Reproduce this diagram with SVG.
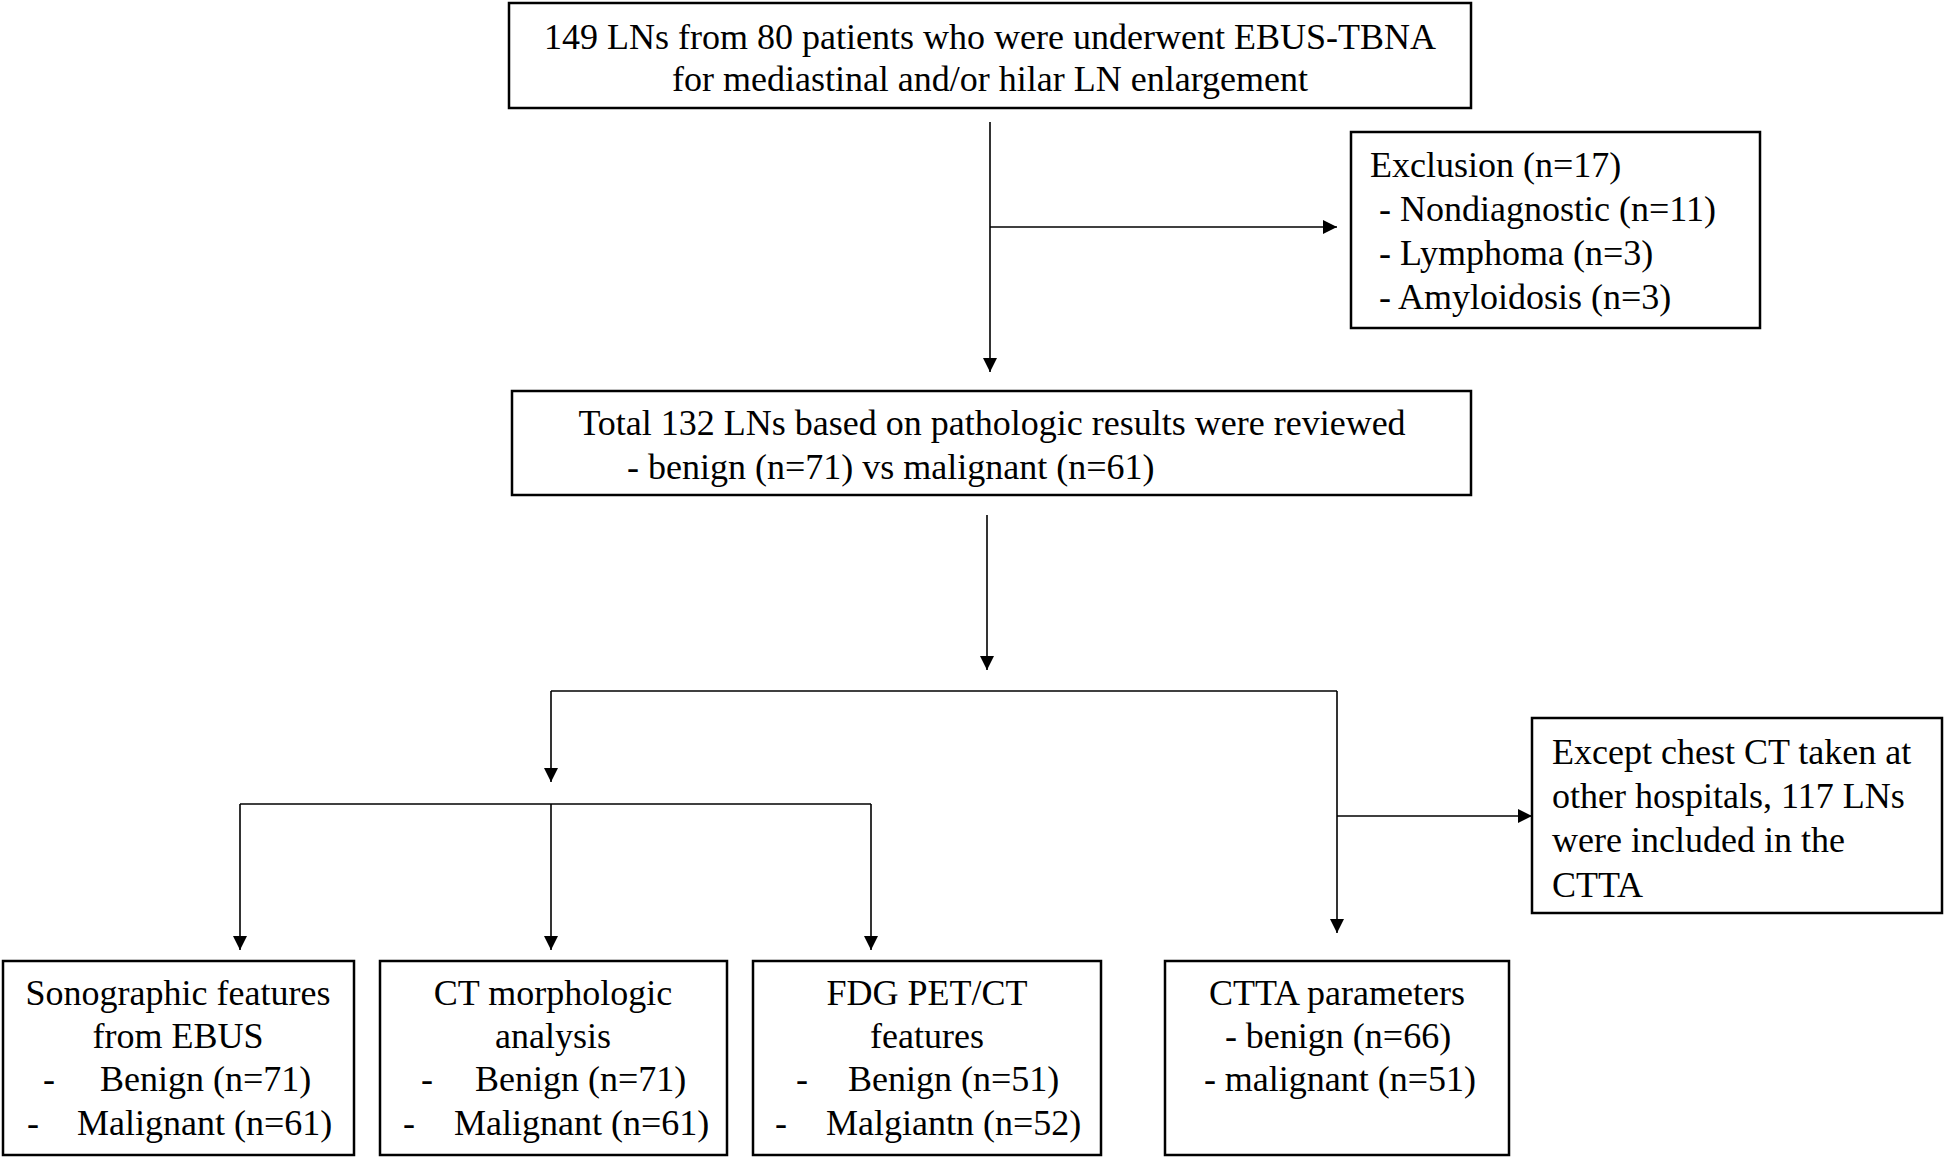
<svg xmlns="http://www.w3.org/2000/svg" width="1946" height="1158" viewBox="0 0 1946 1158">
<defs>
<marker id="ah" markerUnits="userSpaceOnUse" markerWidth="14" markerHeight="14" refX="14" refY="7" orient="auto">
<path d="M0,0 L14,7 L0,14 z" fill="#000"/>
</marker>
<style>
.box{fill:#fff;stroke:#000;stroke-width:2.5}
.t{font-family:"Liberation Serif","Times New Roman",serif;font-size:36px;fill:#000}
.c{text-anchor:middle}
.ln{fill:none;stroke:#000;stroke-width:1.6}
.ar{fill:none;stroke:#000;stroke-width:1.6;marker-end:url(#ah)}
</style>
</defs>
<rect width="1946" height="1158" fill="#fff"/>

<g id="connectors">
<line class="ar" x1="990" y1="122" x2="990" y2="372"/>
<line class="ar" x1="990" y1="227" x2="1337" y2="227"/>
<line class="ar" x1="987" y1="515" x2="987" y2="670"/>
<polyline class="ln" points="551,691 1337,691"/>
<line class="ar" x1="551" y1="691" x2="551" y2="782"/>
<line class="ar" x1="1337" y1="691" x2="1337" y2="933"/>
<line class="ar" x1="1337" y1="816" x2="1532" y2="816"/>
<polyline class="ln" points="240,804 871,804"/>
<line class="ar" x1="240" y1="804" x2="240" y2="950"/>
<line class="ar" x1="551" y1="804" x2="551" y2="950"/>
<line class="ar" x1="871" y1="804" x2="871" y2="950"/>
</g>

<g id="n-start">
<rect class="box" x="509" y="3" width="962" height="105"/>
<text class="t c" x="990" y="49">149 LNs from 80 patients who were underwent EBUS-TBNA</text>
<text class="t c" x="990" y="91">for mediastinal and/or hilar LN enlargement</text>
</g>

<g id="n-exclusion">
<rect class="box" x="1351" y="132" width="409" height="196"/>
<text class="t" x="1370" y="177">Exclusion (n=17)</text>
<text class="t" x="1379" y="221">- Nondiagnostic (n=11)</text>
<text class="t" x="1379" y="265">- Lymphoma (n=3)</text>
<text class="t" x="1379" y="309">- Amyloidosis (n=3)</text>
</g>

<g id="n-total">
<rect class="box" x="512" y="391" width="959" height="104"/>
<text class="t c" x="992" y="435">Total 132 LNs based on pathologic results were reviewed</text>
<text class="t" x="627" y="479">- benign (n=71) vs malignant (n=61)</text>
</g>

<g id="n-except">
<rect class="box" x="1532" y="718" width="410" height="195"/>
<text class="t" x="1552" y="764">Except chest CT taken at</text>
<text class="t" x="1552" y="808">other hospitals, 117 LNs</text>
<text class="t" x="1552" y="852">were included in the</text>
<text class="t" x="1552" y="897">CTTA</text>
</g>

<g id="n-sono">
<rect class="box" x="3" y="961" width="351" height="194"/>
<text class="t c" x="178" y="1005">Sonographic features</text>
<text class="t c" x="178" y="1048">from EBUS</text>
<text class="t" x="43" y="1091">-</text>
<text class="t" x="100" y="1091">Benign (n=71)</text>
<text class="t" x="27" y="1135">-</text>
<text class="t" x="77" y="1135">Malignant (n=61)</text>
</g>

<g id="n-ctmorph">
<rect class="box" x="380" y="961" width="347" height="194"/>
<text class="t c" x="553" y="1005">CT morphologic</text>
<text class="t c" x="553" y="1048">analysis</text>
<text class="t" x="421" y="1091">-</text>
<text class="t" x="475" y="1091">Benign (n=71)</text>
<text class="t" x="403" y="1135">-</text>
<text class="t" x="454" y="1135">Malignant (n=61)</text>
</g>

<g id="n-pet">
<rect class="box" x="753" y="961" width="348" height="194"/>
<text class="t c" x="927" y="1005">FDG PET/CT</text>
<text class="t c" x="927" y="1048">features</text>
<text class="t" x="796" y="1091">-</text>
<text class="t" x="848" y="1091">Benign (n=51)</text>
<text class="t" x="775" y="1135">-</text>
<text class="t" x="826" y="1135">Malgiantn (n=52)</text>
</g>

<g id="n-ctta">
<rect class="box" x="1165" y="961" width="344" height="194"/>
<text class="t c" x="1337" y="1005">CTTA parameters</text>
<text class="t c" x="1338" y="1048">- benign (n=66)</text>
<text class="t c" x="1340" y="1091">- malignant (n=51)</text>
</g>
</svg>
